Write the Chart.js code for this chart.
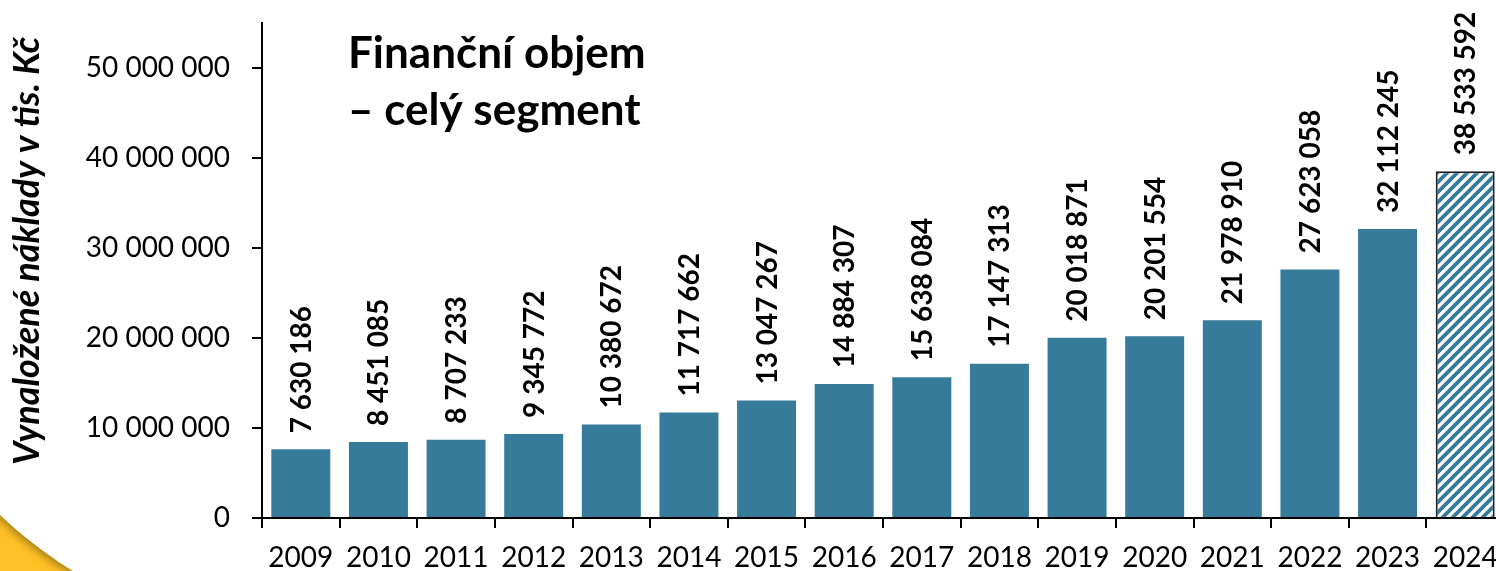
<!DOCTYPE html>
<html>
<head>
<meta charset="utf-8">
<script src="https://cdn.jsdelivr.net/npm/chart.js@4/dist/chart.umd.min.js"></script>
<style>
  html, body { margin:0; padding:0; background:#fff; overflow:hidden; }
  #wrap { width:1496px; height:571px; overflow:hidden; position:relative; }
</style>
</head>
<body>
<div id="wrap"><canvas id="c" width="1504" height="571"></canvas></div>
<script>
// données
const roky = ['2009','2010','2011','2012','2013','2014','2015','2016','2017','2018','2019','2020','2021','2022','2023','2024'];
const naklady = [7630186, 8451085, 8707233, 9345772, 10380672, 11717662, 13047267, 14884307, 15638084, 17147313, 20018871, 20201554, 21978910, 27623058, 32112245, 38533592];
const odhad = [false,false,false,false,false,false,false,false,false,false,false,false,false,false,false,true]; // 2024 = hachuré
const yTicks = [0, 10000000, 20000000, 30000000, 40000000, 50000000];
const yMax = 55000000;
const titre = ['Finanční objem', '– celý segment'];
const titreAxe = 'Vynaložené náklady v tis. Kč';

const BLEU = '#377b9a';
const FONT = 'Lato, "Open Sans", sans-serif';

// formatage "7 630 186"
function fmt(v){ return String(v).replace(/\B(?=(\d{3})+(?!\d))/g, ' '); }

// motif hachuré
function hachure(ctx){
  const n = 10;
  const p = document.createElement('canvas');
  p.width = n; p.height = n;
  const g = p.getContext('2d');
  g.fillStyle = '#fff'; g.fillRect(0,0,n,n);
  g.strokeStyle = BLEU; g.lineWidth = 3.8;
  g.beginPath();
  g.moveTo(-2,n+2); g.lineTo(n+2,-2);
  g.moveTo(-2,2); g.lineTo(2,-2);
  g.moveTo(n-2,n+2); g.lineTo(n+2,n-2);
  g.stroke();
  return ctx.createPattern(p,'repeat');
}

// décor jaune en bas à gauche
const decor = {
  id: 'decor',
  beforeDraw(chart){
    const ctx = chart.ctx;
    ctx.save();
    ctx.beginPath();
    ctx.rect(0, 440, 140, 131);
    ctx.clip();
    ctx.fillStyle = '#ffc125';
    ctx.fillRect(0, 440, 140, 131);
    ctx.shadowColor = 'rgba(0,0,0,0.35)';
    ctx.shadowBlur = 8;
    ctx.shadowOffsetX = -2;
    ctx.shadowOffsetY = 3;
    ctx.fillStyle = '#fff';
    ctx.beginPath();
    ctx.arc(300, 200, 435, 0, Math.PI*2);
    ctx.fill();
    ctx.restore();
  }
};

// étiquettes des barres + titres
const textes = {
  id: 'textes',
  afterDatasetsDraw(chart){
    const ctx = chart.ctx;
    const meta = chart.getDatasetMeta(0);
    ctx.save();
    ctx.fillStyle = '#000';
    ctx.font = 'bold 28px ' + FONT;
    ctx.textAlign = 'left';
    ctx.textBaseline = 'middle';
    meta.data.forEach((bar, i) => {
      ctx.save();
      ctx.translate(bar.x, bar.y - 16);
      ctx.rotate(-Math.PI/2);
      ctx.fillText(fmt(naklady[i]), 0, 1);
      ctx.restore();
    });
    // titre
    ctx.font = 'bold 44px ' + FONT;
    ctx.textBaseline = 'alphabetic';
    ctx.fillText(titre[0], 348, 68);
    ctx.fillText(titre[1], 348, 125);
    // titre de l'axe
    ctx.save();
    ctx.translate(27, 251);
    ctx.rotate(-Math.PI/2);
    ctx.textAlign = 'center';
    ctx.textBaseline = 'middle';
    ctx.font = 'italic bold 36px ' + FONT;
    ctx.fillText(titreAxe, 0, 0);
    ctx.restore();
    ctx.restore();
  }
};

document.addEventListener('DOMContentLoaded', () => {
  const ctx = document.getElementById('c').getContext('2d');
  const motif = hachure(ctx);
  new Chart(ctx, {
    type: 'bar',
    data: {
      labels: roky,
      datasets: [{
        data: naklady,
        backgroundColor: odhad.map(o => o ? motif : BLEU),
        borderColor: odhad.map(o => o ? '#222' : BLEU),
        borderWidth: odhad.map(o => o ? 2 : 0),
        barPercentage: 0.76,
        categoryPercentage: 1
      }]
    },
    options: {
      responsive: false,
      animation: false,
      layout: { padding: { top: 23, left: 0, right: 0, bottom: 0 } },
      plugins: { legend: { display:false }, tooltip: { enabled:false } },
      scales: {
        x: {
          afterFit(s){ s.height = 53; s.paddingLeft = 0; s.paddingRight = 0; },
          border: { color:'#000', width:2 },
          grid: { drawOnChartArea:false, drawTicks:true, tickLength:10, color:'#000', lineWidth:2, offset:true },
          ticks: { color:'#000', font:{ family:FONT, size:28 }, padding:13, maxRotation:0, autoSkip:false }
        },
        y: {
          min: 0, max: yMax,
          afterFit(s){ s.width = 262; s.paddingTop = 0; s.paddingBottom = 0; },
          afterBuildTicks(s){ s.ticks = yTicks.map(v => ({ value:v })); },
          border: { color:'#000', width:2 },
          grid: { drawOnChartArea:false, drawTicks:true, tickLength:10, color:'#000', lineWidth:2 },
          ticks: { color:'#000', font:{ family:FONT, size:28 }, padding:22, callback: v => fmt(v) }
        }
      }
    },
    plugins: [decor, textes]
  });
});
</script>
</body>
</html>
